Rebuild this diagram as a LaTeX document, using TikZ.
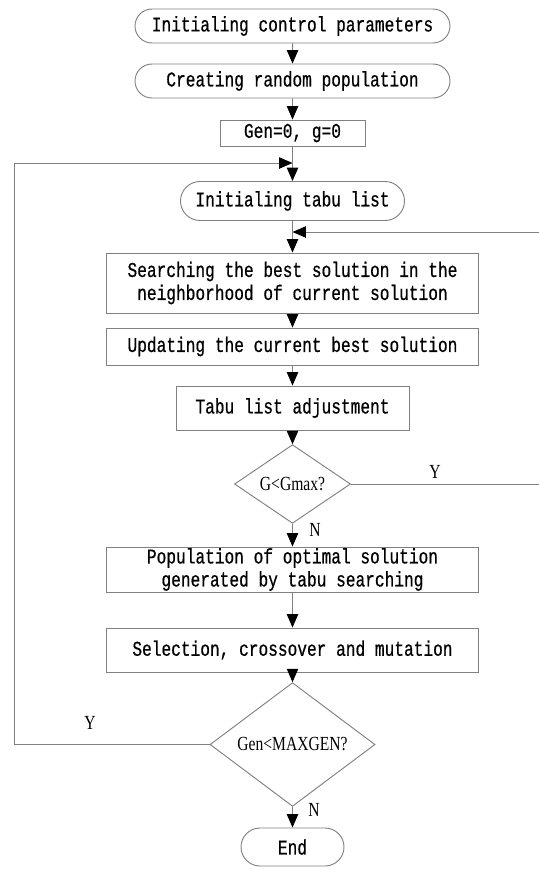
\documentclass[tikz,border=0pt]{standalone}
\usepackage{fontspec}
\newfontfamily\monofnt[FakeStretch=0.77,FakeBold=0.6]{Liberation Mono}
\newfontfamily\seriffnt[FakeStretch=0.78]{Liberation Serif}
\usetikzlibrary{arrows.meta,shapes.geometric,shapes.misc}
\tikzset{
  box/.style={draw=gray,line width=0.7pt,rectangle,inner sep=0pt,align=center,
    font=\monofnt\fontsize{15.75pt}{17.25pt}\selectfont},
  term/.style={box,rounded rectangle},
  test/.style={draw=gray,line width=0.7pt,diamond,inner sep=0pt,
    font=\seriffnt\fontsize{15pt}{17pt}\selectfont},
  lbl/.style={font=\seriffnt\fontsize{15pt}{17pt}\selectfont},
  line/.style={draw=gray,line width=0.7pt},
  arr/.style={line,-{Triangle[length=10pt,width=8.5pt,color=black]}}
}
\begin{document}
\begin{tikzpicture}[x=0.75pt,y=-0.75pt]
\useasboundingbox (0,0) rectangle (539,869);

\node[term,minimum width=236.25pt,minimum height=25.5pt] (start) at (292.5,26) {Initialing control parameters};
\node[term,minimum width=236.25pt,minimum height=25.5pt] (pop) at (292.5,81) {Creating random population};
\node[box,minimum width=108.75pt,minimum height=19.5pt] (init) at (292.5,133) {Gen=0, g=0};
\node[term,minimum width=168pt,minimum height=29.25pt] (tabu) at (292.5,201) {Initialing tabu list};
\node[box,minimum width=279pt,minimum height=45pt] (search) at (292.5,283) {Searching the best solution in the\\neighborhood of current solution};
\node[box,minimum width=279pt,minimum height=27.75pt] (update) at (292.5,346.5) {Updating the current best solution};
\node[box,minimum width=174.75pt,minimum height=33pt] (adjust) at (292.5,408) {Tabu list adjustment};
\node[test,minimum width=87pt,minimum height=52.5pt] (gtest) at (292.5,484) {G<Gmax?};
\node[box,minimum width=279pt,minimum height=33.75pt] (best) at (292.5,569.5) {Population of optimal solution\\generated by tabu searching};
\node[box,minimum width=279pt,minimum height=33pt] (ga) at (292.5,650) {Selection, crossover and mutation};
\node[test,minimum width=123.75pt,minimum height=63.75pt] (gentest) at (292.5,744.5) {Gen<MAXGEN?};
\node[term,minimum width=77.25pt,minimum height=28.5pt] (stop) at (292.5,847) {End};

\coordinate (lc) at (14,163);
\coordinate (jl) at (292.5,163);
\coordinate (rc) at (541,232);
\coordinate (jr) at (292.5,232);

\draw[arr] (start) -- (pop);
\draw[arr] (pop) -- (init);
\draw[arr] (init) -- (tabu);
\draw[arr] (tabu) -- (search);
\draw[arr] (search) -- (update);
\draw[arr] (update) -- (adjust);
\draw[arr] (adjust) -- (gtest);
\draw[arr] (gtest) -- (best);
\draw[arr] (best) -- (ga);
\draw[arr] (ga) -- (gentest);
\draw[arr] (gentest) -- (stop);
\draw[arr] (gtest.east) -| (rc) -- (jr);
\draw[arr] (gentest.west) -| (lc) -- (jl);

\node[lbl] (gy) at (435,472) {Y};
\node[lbl] (gn) at (315,530) {N};
\node[lbl] (geny) at (90,723) {Y};
\node[lbl] (genn) at (314,810) {N};
\end{tikzpicture}
\end{document}
